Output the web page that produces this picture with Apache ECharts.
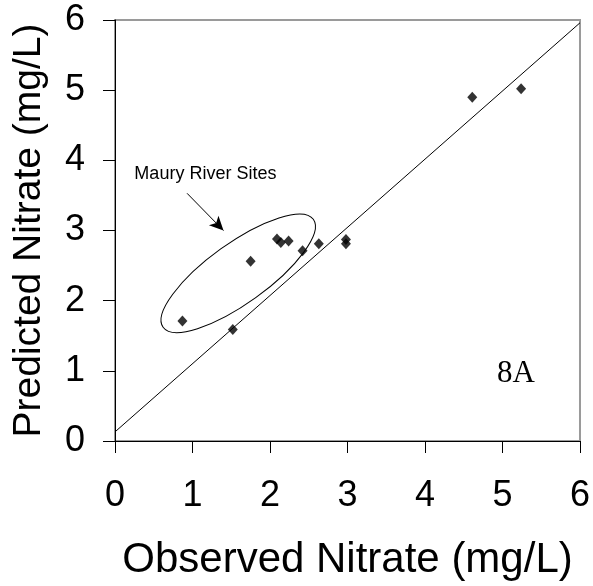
<!DOCTYPE html>
<html>
<head>
<meta charset="utf-8">
<script src="https://cdn.jsdelivr.net/npm/echarts@6/dist/echarts.min.js"></script>
<style>
  html, body { margin: 0; padding: 0; background: #fff; }
  #chart { width: 593px; height: 586px; }
</style>
</head>
<body>
<div id="chart"></div>
<script>
// observed vs predicted nitrate (mg/L)
const observed = [0.87, 1.52, 1.75, 2.09, 2.14, 2.24, 2.42, 2.63, 2.98, 2.98, 4.61, 5.24];
const predicted = [1.71, 1.59, 2.56, 2.88, 2.83, 2.85, 2.71, 2.81, 2.87, 2.81, 4.90, 5.02];

// fitted line end points
const fitX = [0, 6];
const fitY = [0.13, 5.96];

const AXIS_TICKS = ["0", "1", "2", "3", "4", "5", "6"];

// annotation anchors, in data units
const arrowFrom = [0.93, 3.53];
const arrowTo = [1.40, 3.00];
const noteAt = [0.25, 3.81];
const ellipseCenter = [1.59, 2.39];
const panelLabelAt = [4.93, 0.96];

const FONT = "Liberation Sans, Arial, sans-serif";
const SERIF = "Liberation Serif, Times New Roman, serif";

const chart = echarts.init(document.getElementById("chart"));

const axisCommon = {
  type: "value",
  min: 0,
  max: 6,
  interval: 1,
  axisLine: { show: true, lineStyle: { color: "#000", width: 1 } },
  axisTick: { show: true, inside: false, length: 12, lineStyle: { color: "#000" } },
  splitLine: { show: false },
  nameLocation: "middle",
};

chart.setOption({
  animation: false,
  backgroundColor: "#fff",
  grid: {
    left: 115,
    right: 12,
    top: 20,
    bottom: 144,
    show: true,
    borderColor: "#9a9a9a",
    borderWidth: 2,
  },
  xAxis: {
    ...axisCommon,
    name: "Observed Nitrate (mg/L)",
    nameGap: 98,
    nameTextStyle: { fontFamily: FONT, fontSize: 42, color: "#000" },
    axisLabel: {
      fontFamily: FONT,
      fontSize: 36,
      color: "#000",
      margin: 37,
      formatter: (v) => AXIS_TICKS[v],
    },
  },
  yAxis: {
    ...axisCommon,
    name: "Predicted Nitrate (mg/L)",
    nameGap: 66,
    nameTextStyle: { fontFamily: FONT, fontSize: 39, color: "#000" },
    axisLabel: {
      fontFamily: FONT,
      fontSize: 36,
      color: "#000",
      margin: 30,
      formatter: (v) => AXIS_TICKS[v],
    },
  },
  series: [
    {
      type: "line",
      data: fitX.map((x, i) => [x, fitY[i]]),
      symbol: "none",
      lineStyle: { color: "#000", width: 1 },
      silent: true,
      z: 2,
    },
    {
      type: "scatter",
      data: observed.map((x, i) => [x, predicted[i]]),
      symbol: "diamond",
      symbolSize: [10, 11],
      itemStyle: { color: "#000" },
      z: 3,
      markLine: {
        silent: true,
        symbol: ["none", "arrow"],
        symbolSize: [10, 14],
        label: { show: false },
        lineStyle: { color: "#000", width: 1, type: "solid" },
        data: [[{ coord: arrowFrom }, { coord: arrowTo }]],
      },
    },
  ],
});

// annotations placed from data coords
const toPx = (pt) => chart.convertToPixel({ gridIndex: 0 }, pt);
const c = toPx(ellipseCenter);
const note = toPx(noteAt);
const panel = toPx(panelLabelAt);

chart.setOption({
  graphic: [
    {
      type: "ellipse",
      x: c[0],
      y: c[1],
      rotation: (35.7 * Math.PI) / 180,
      shape: { cx: 0, cy: 0, rx: 92.5, ry: 30 },
      style: { fill: "none", stroke: "#000", lineWidth: 1 },
      silent: true,
    },
    {
      type: "text",
      x: note[0],
      y: note[1],
      style: {
        text: "Maury River Sites",
        font: "18px " + FONT,
        fill: "#000",
        verticalAlign: "middle",
      },
    },
    {
      type: "text",
      x: panel[0],
      y: panel[1],
      style: {
        text: "8A",
        font: "31px " + SERIF,
        fill: "#000",
        verticalAlign: "middle",
      },
    },
  ],
});
</script>
</body>
</html>
